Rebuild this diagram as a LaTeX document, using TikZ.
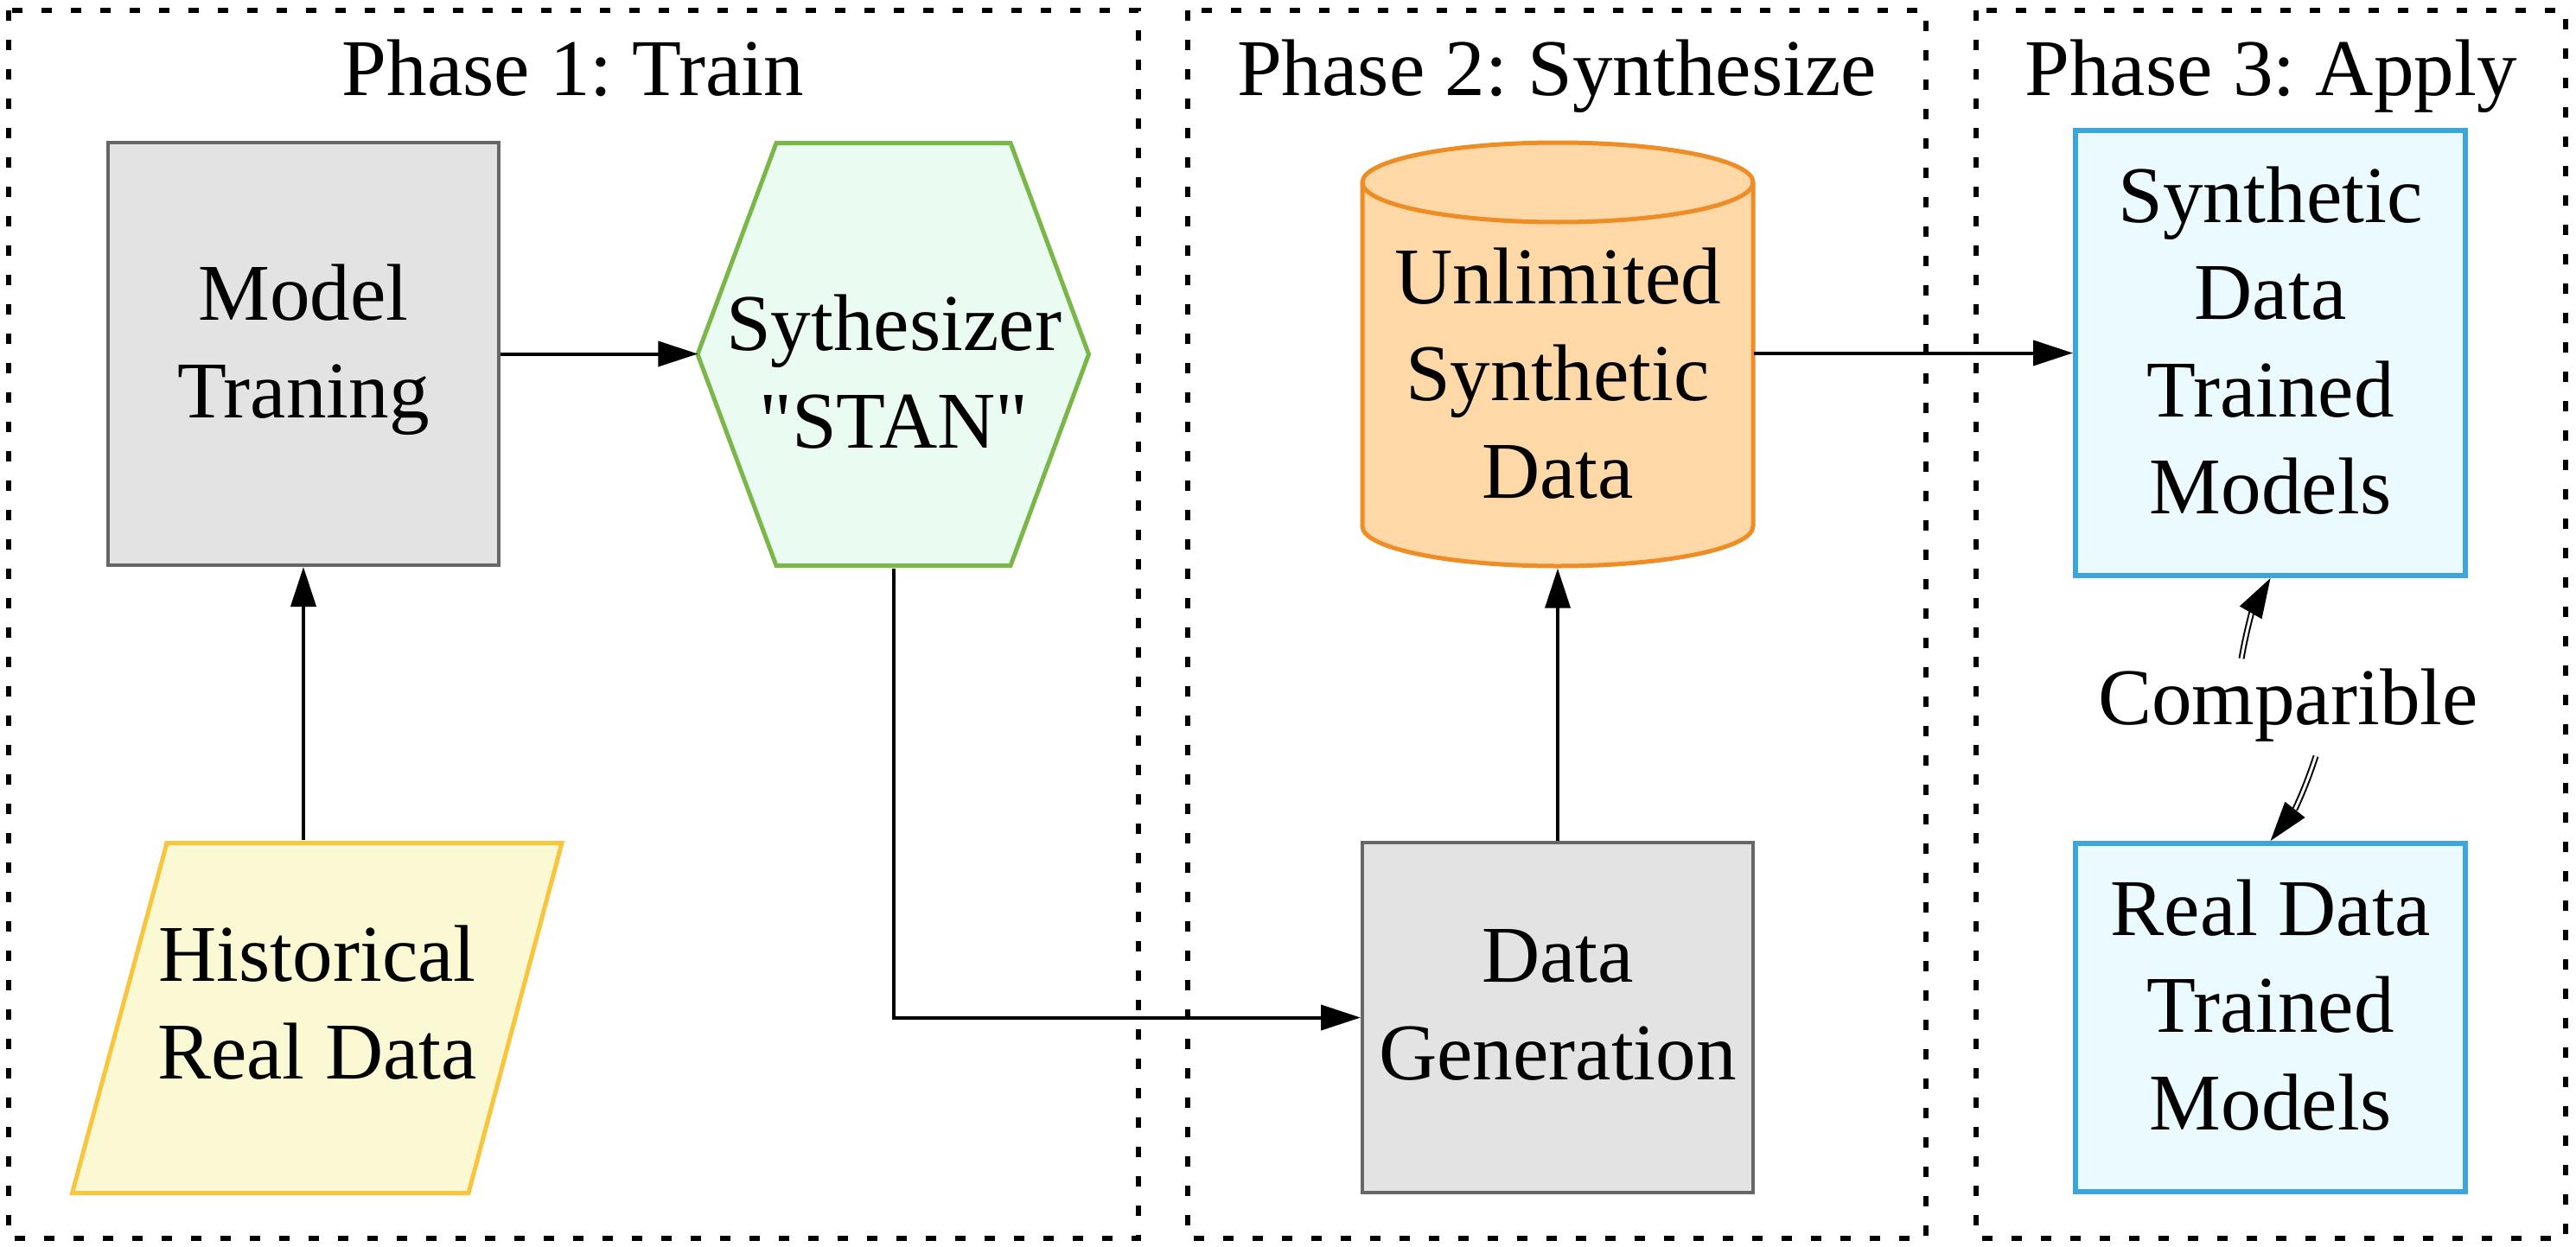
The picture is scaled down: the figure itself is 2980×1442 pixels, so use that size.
\documentclass[tikz,border=0pt]{standalone}
\usepackage{fontspec}
\setmainfont{Liberation Serif}[Ligatures=TeXOff]
\usepackage{xcolor}
\usepackage{tikz}
\usetikzlibrary{arrows.meta, calc}
\definecolor{boxfill}{HTML}{E3E3E3}
\definecolor{boxline}{HTML}{666666}
\definecolor{hexfill}{HTML}{EAFCF1}
\definecolor{hexline}{HTML}{7AB648}
\definecolor{parafill}{HTML}{FBF9D4}
\definecolor{paraline}{HTML}{F9C53C}
\definecolor{cylfill}{HTML}{FFD8A7}
\definecolor{cylline}{HTML}{EE8C25}
\definecolor{bluefill}{HTML}{EBFAFE}
\definecolor{blueline}{HTML}{3CA6DC}
\tikzstyle{phase} = [draw=black, line width=0.65mm, dash pattern=on 1.2mm off 2.2mm]
\tikzstyle{title} = [anchor=base, inner sep=0pt]
\tikzstyle{graybox} = [rectangle, draw=boxline, fill=boxfill, line width=0.4mm, minimum width=45.2mm, align=center]
\tikzstyle{bluebox} = [rectangle, draw=blueline, fill=bluefill, line width=0.6mm, minimum width=45.1mm, align=center]
\tikzstyle{shapetext} = [inner sep=0pt, align=center]
\tikzstyle{arrow} = [line width=0.4mm, -{Triangle[length=4.6mm, width=2.9mm]}]
\tikzstyle{cmparrow} = [double, line width=0.2mm, double distance=0.3mm, -{Triangle[length=4.6mm, width=2.9mm]}]
\newcommand{\dstrut}{\rule[-3mm]{0pt}{3mm}}
\frenchspacing

\begin{document}
\begin{tikzpicture}[x=0.1mm, y=-0.1mm, font={\fontsize{26.5pt}{32pt}\selectfont}]
\useasboundingbox (0,0) rectangle (2980,1442);

% phase frames
\draw[phase] (10,12) rectangle (1317,1433);
\draw[phase] (1374,12) rectangle (2228,1433);
\draw[phase] (2286,12) rectangle (2968,1433);
\node[title] (t1) at (663,110) {Phase 1: Train};
\node[title] (t2) at (1801,110) {Phase 2: Synthesize};
\node[title] (t3) at (2627,110) {Phase 3: Apply};

% shapes
\draw[draw=hexline, fill=hexfill, line width=0.5mm] (807,410) -- (898,165.5) -- (1169,165.5) -- (1259.5,410) -- (1169,654.5) -- (898,654.5) -- cycle;
\draw[draw=paraline, fill=parafill, line width=0.5mm] (193,975.5) -- (650,975.5) -- (542,1380.5) -- (83.5,1380.5) -- cycle;
\draw[draw=cylline, fill=cylfill, line width=0.5mm] (1576,211) -- (1576,609) arc[start angle=180, end angle=360, x radius=22.6mm, y radius=4.6mm] -- (2028,211) arc[start angle=0, end angle=180, x radius=22.6mm, y radius=4.6mm] -- cycle;
\draw[draw=cylline, line width=0.5mm] (1576,211) arc[start angle=180, end angle=360, x radius=22.6mm, y radius=4.6mm];

% nodes
\node[graybox, minimum height=48.9mm] (model) at (351,409.5) {Model\\Traning\dstrut};
\node[shapetext, minimum width=45.2mm, minimum height=45.4mm] (synth) at (1034,430) {Sythesizer\\"STAN"};
\node[shapetext, minimum width=46mm, minimum height=37.4mm] (hist) at (367,1160) {Historical\\Real Data};
\node[shapetext, minimum width=45.2mm, minimum height=45mm] (unl) at (1802,432) {Unlimited\\Synthetic\\Data};
\node[graybox, minimum height=40.5mm] (gen) at (1802,1177.5) {Data\\Generation\dstrut};
\node[bluebox, minimum height=51.5mm] (synm) at (2626.5,408.5) {Synthetic\\Data\\Trained\\Models\dstrut};
\node[bluebox, minimum height=40.3mm] (realm) at (2626.5,1177.5) {Real Data\\Trained\\Models\dstrut};
\node[anchor=base, inner sep=0pt] (cmp) at (2647,838) {Comparible};
\coordinate (cmpup) at ([shift={(-5.4mm,7.6mm)}]cmp.base);
\coordinate (cmpdown) at ([shift={(3.2mm,-3.7mm)}]cmp.base);

% connectors
\draw[arrow] (model.south |- hist.north) -- (model.south);
\draw[arrow] (model.east) -- (model.east -| synth.west);
\draw[arrow] (synth.south) |- (gen.west);
\draw[arrow] (gen.north) -- (unl.south);
\draw[arrow] (unl.east |- synm.west) -- (synm.west);
\draw[cmparrow] (cmpup) to[bend left=10] (synm.south);
\draw[cmparrow] (cmpdown) to[bend left=10] (realm.north);
\end{tikzpicture}
\end{document}
